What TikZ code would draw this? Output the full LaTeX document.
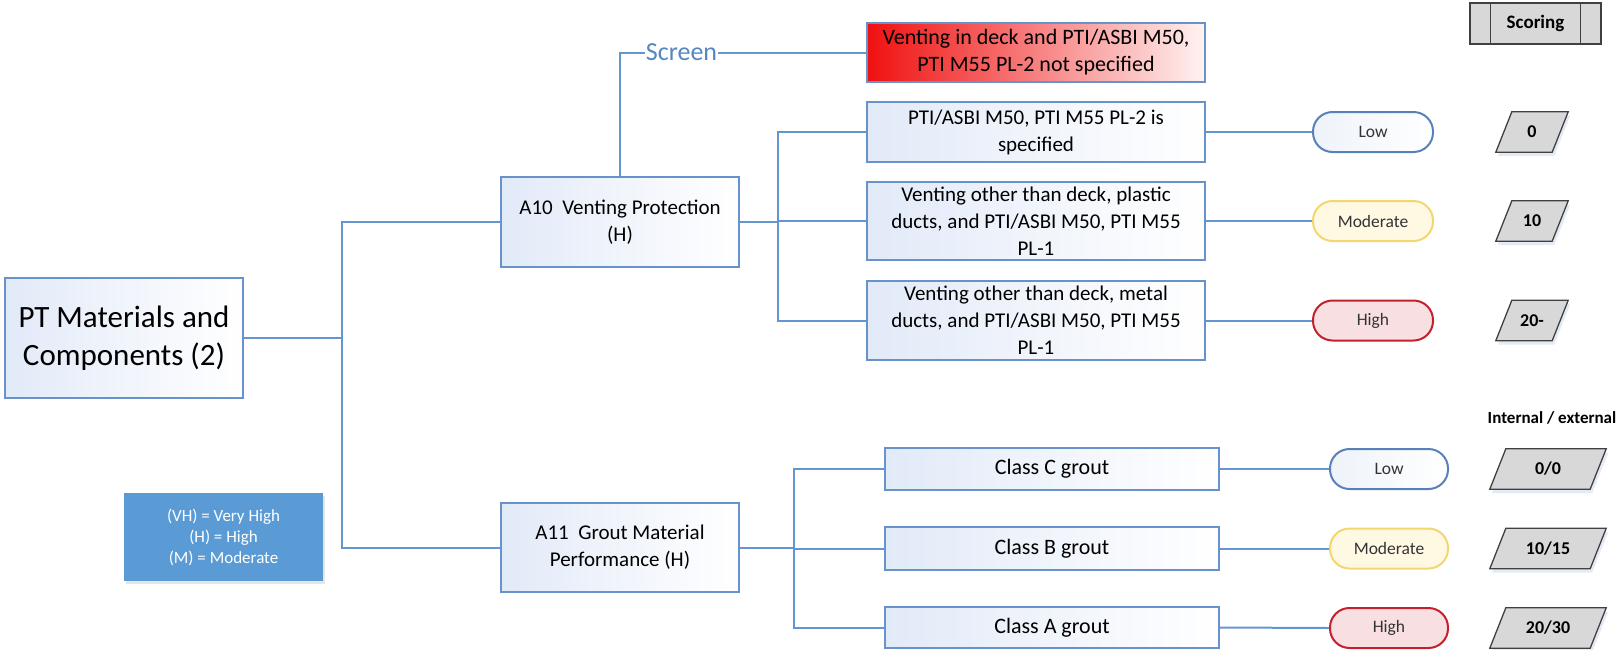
\documentclass[tikz,border=0pt]{standalone}
\usepackage{fontspec}
\setmainfont{Carlito}
\usetikzlibrary{shadows,backgrounds}

\definecolor{linkblue}{RGB}{98,150,208}
\definecolor{boxedge}{RGB}{104,146,204}
\definecolor{boxtint}{RGB}{226,234,248}
\definecolor{screenblue}{RGB}{84,134,194}
\definecolor{legendblue}{RGB}{91,155,213}
\definecolor{lowedge}{RGB}{88,128,185}
\definecolor{lowfill}{RGB}{238,243,250}
\definecolor{modedge}{RGB}{244,214,110}
\definecolor{modfill}{RGB}{255,249,228}
\definecolor{highedge}{RGB}{196,32,44}
\definecolor{highfill}{RGB}{248,224,226}
\definecolor{scorefill}{RGB}{216,216,216}
\definecolor{scoreedge}{RGB}{64,64,64}
\definecolor{hotred}{RGB}{240,16,16}

\tikzset{
  link/.style={draw=linkblue, line width=2pt},
  box/.style={draw=boxedge, line width=2pt, left color=boxtint, right color=white,
    align=center, inner sep=0pt, font=\fontsize{21}{27}\selectfont},
  alertbox/.style={box, left color=hotred, middle color=red!28!white, right color=red!5!white,
    font=\fontsize{22}{27}\selectfont},
  pill/.style={rectangle, rounded corners=19.5pt, line width=2pt, minimum width=120pt,
    minimum height=40pt, inner sep=0pt, text=black!80, font=\fontsize{17.5}{20}\selectfont},
  lowpill/.style={pill, draw=lowedge, left color=lowfill, right color=white},
  modpill/.style={pill, draw=modedge, fill=modfill},
  highpill/.style={pill, draw=highedge, fill=highfill},
  score/.style={minimum height=40pt, inner sep=0pt, font=\bfseries\fontsize{18}{21}\selectfont},
  slanted/.style={draw=scoreedge, line width=1.3pt, fill=scorefill, line join=miter},
  slantshadow/.style={fill=boxedge, opacity=0.18},
  header/.style={draw=scoreedge, line width=1.3pt, fill=scorefill, minimum width=131pt,
    minimum height=41pt, inner sep=0pt, font=\bfseries\fontsize{19}{22}\selectfont},
  keybox/.style={fill=legendblue, text=white, align=center, minimum width=199pt,
    minimum height=88pt, inner sep=0pt, font=\fontsize{17}{21}\selectfont,
    drop shadow={opacity=0.2, shadow xshift=2pt, shadow yshift=-3pt}},
}

% parallelogram outline round a score node: #1 = node name
\newcommand{\scoreframe}[1]{%
  \path[slantshadow] ([xshift=-6pt,yshift=-4pt]#1.south west) -- ([xshift=10pt,yshift=-4pt]#1.north west)
    -- ([xshift=10pt,yshift=-4pt]#1.north east) -- ([xshift=-6pt,yshift=-4pt]#1.south east) -- cycle;
  \path[slanted] ([xshift=-8pt]#1.south west) -- ([xshift=8pt]#1.north west)
    -- ([xshift=8pt]#1.north east) -- ([xshift=-8pt]#1.south east) -- cycle;}

\begin{document}
\begin{tikzpicture}[x=1pt,y=-1pt]
\useasboundingbox (0,0) rectangle (1623,649);

% root and first level
\node[box, minimum width=238pt, minimum height=120pt, font=\fontsize{31}{38}\selectfont]
  (root) at (124,338) {PT Materials and\\Components (2)};
\node[box, minimum width=238pt, minimum height=90pt] (a10) at (620,222)
  {A10\ \ Venting Protection\\(H)};
\node[box, minimum width=238pt, minimum height=89pt] (a11) at (620,547.5)
  {A11\ \ Grout Material\\Performance (H)};
\node[keybox] (key) at (223.5,537) {(VH) = Very High\\(H) = High\\(M) = Moderate};

% venting protection options
\node[alertbox, minimum width=338pt, minimum height=59pt] (deck) at (1036,52.5)
  {Venting in deck and PTI/ASBI M50,\\PTI M55 PL-2 not specified};
\node[box, minimum width=338pt, minimum height=60pt] (pti) at (1036,132)
  {PTI/ASBI M50, PTI M55 PL-2 is\\specified};
\node[box, minimum width=338pt, minimum height=78pt] (plastic) at (1036,221)
  {Venting other than deck, plastic\\ducts, and PTI/ASBI M50, PTI M55\\PL-1};
\node[box, minimum width=338pt, minimum height=79pt] (metal) at (1036,320.5)
  {Venting other than deck, metal\\ducts, and PTI/ASBI M50, PTI M55\\PL-1};

% grout options
\node[box, minimum width=334pt, minimum height=42pt, font=\fontsize{22}{26}\selectfont] (gc) at (1052,469) {Class C grout};
\node[box, minimum width=334pt, minimum height=43pt, font=\fontsize{22}{26}\selectfont] (gb) at (1052,548.5) {Class B grout};
\node[box, minimum width=334pt, minimum height=41pt, font=\fontsize{22}{26}\selectfont] (ga) at (1052,627.5) {Class A grout};

% risk levels
\node[lowpill] (lv1) at (1373,132) {Low};
\node[modpill] (lv2) at (1373,221) {Moderate};
\node[highpill] (lv3) at (1373,320.5) {High};
\node[lowpill, minimum width=118pt] (lg1) at (1389,469) {Low};
\node[modpill, minimum width=118pt] (lg2) at (1389,548.5) {Moderate};
\node[highpill, minimum width=118pt] (lg3) at (1389,628) {High};

% scores
\node[header] (hdr) at (1535.5,23.5) {Scoring};
\draw[draw=scoreedge, line width=1.3pt] ([xshift=21pt]hdr.north west) -- ([xshift=21pt]hdr.south west);
\draw[draw=scoreedge, line width=1.3pt] ([xshift=-21pt]hdr.north east) -- ([xshift=-21pt]hdr.south east);
\node[font=\bfseries\fontsize{17}{20}\selectfont] (ie) at (1552,418) {Internal / external};

\node[score, minimum width=56pt] (s1) at (1532,132) {0};
\node[score, minimum width=56pt] (s2) at (1532,221) {10};
\node[score, minimum width=56pt] (s3) at (1532,320.5) {20-};
\node[score, minimum width=100pt] (t1) at (1548,469) {0/0};
\node[score, minimum width=100pt] (t2) at (1548,548.5) {10/15};
\node[score, minimum width=100pt] (t3) at (1548,628) {20/30};

\begin{scope}[on background layer]
  \scoreframe{s1}\scoreframe{s2}\scoreframe{s3}
  \scoreframe{t1}\scoreframe{t2}\scoreframe{t3}
\end{scope}

% connectors
\coordinate (trunk) at (342,0);
\coordinate (vbus) at (778,0);
\coordinate (gbus) at (794,0);

\draw[link] (root.east) -- (root.east -| trunk);
\draw[link] (a10.west) -- (a10.west -| trunk) -- (a11.west -| trunk) -- (a11.west);

\draw[link] (a10.north) -- (a10.north |- deck.west)
  -- node[pos=0.25, fill=white, inner sep=1pt, text=screenblue,
          font=\fontsize{26}{30}\selectfont] (scr) {Screen} (deck.west);

\draw[link] (a10.east) -- (a10.east -| vbus);
\draw[link] (pti.west) -- (pti.west -| vbus) -- (metal.west -| vbus) -- (metal.west);
\draw[link] (plastic.west) -- (plastic.west -| vbus);

\draw[link] (a11.east) -- (a11.east -| gbus);
\draw[link] (gc.west) -- (gc.west -| gbus) -- (ga.west -| gbus) -- (ga.west);
\draw[link] (gb.west) -- (gb.west -| gbus);

\draw[link] (pti.east) -- (lv1.west);
\draw[link] (plastic.east) -- (lv2.west);
\draw[link] (metal.east) -- (lv3.west);
\draw[link] (gc.east) -- (lg1.west);
\draw[link] (gb.east) -- (lg2.west);
\draw[link] (ga.east) -- (lg3.west);
\end{tikzpicture}
\end{document}
